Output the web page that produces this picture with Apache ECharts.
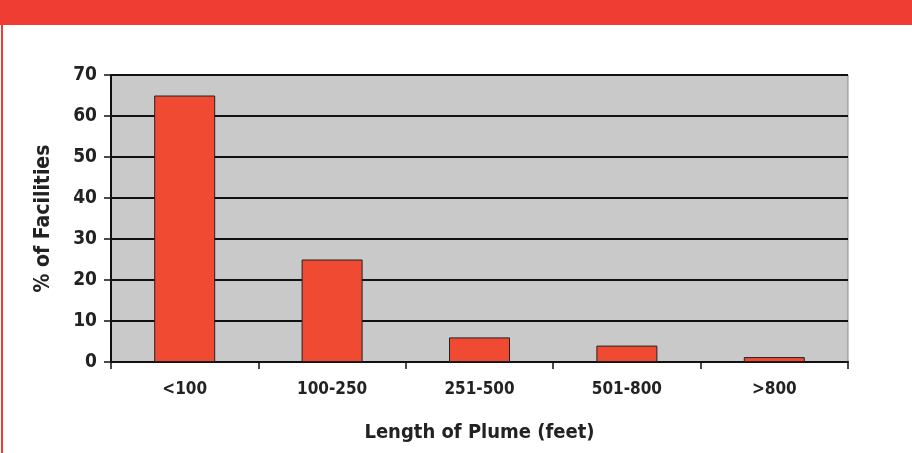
<!DOCTYPE html>
<html>
<head>
<meta charset="utf-8">
<script src="https://cdn.jsdelivr.net/npm/echarts@6/dist/echarts.min.js"></script>
<style>
  html, body { margin: 0; padding: 0; background: #fff; }
  #chart { width: 912px; height: 453px; }
</style>
</head>
<body>
<div id="chart"></div>
<script>
// 数据
const categories = ['<100', '100-250', '251-500', '501-800', '>800'];
const percentFacilities = [65, 25, 6, 4, 1.2];
const yTicks = [0, 10, 20, 30, 40, 50, 60, 70];

const font = '"Liberation Sans Narrow", "DejaVu Sans Condensed", "Liberation Sans", sans-serif';

const chart = echarts.init(document.getElementById('chart'));

chart.setOption({
  backgroundColor: '#fff',
  graphic: [
    // top red banner
    { type: 'rect', left: 0, top: 0, shape: { width: 912, height: 25 }, style: { fill: '#ef3d33' }, silent: true },
    // left red rule
    { type: 'rect', left: 1, top: 25, shape: { width: 2, height: 428 }, style: { fill: '#ef3d33' }, silent: true }
  ],
  grid: {
    left: 111, right: 64, top: 75, bottom: 91,
    outerBoundsMode: 'none',
    containLabel: false,
    show: true,
    backgroundColor: '#c9c9c9',
    borderColor: '#8a8a8a',
    borderWidth: 1
  },
  xAxis: {
    type: 'category',
    data: categories,
    name: 'Length of Plume (feet)',
    nameLocation: 'middle',
    nameGap: 61,
    nameTextStyle: { fontFamily: font, fontWeight: 'bold', fontSize: 20, color: '#222' },
    axisLine: { lineStyle: { color: '#111', width: 2 } },
    axisTick: { show: true, alignWithLabel: false, length: 7, lineStyle: { color: '#111', width: 1.5 } },
    axisLabel: { fontFamily: font, fontWeight: 'bold', fontSize: 17, color: '#222', margin: 19 }
  },
  yAxis: {
    type: 'value',
    min: 0,
    max: 70,
    interval: 10,
    name: '% of Facilities',
    nameLocation: 'middle',
    nameGap: 57,
    nameTextStyle: { fontFamily: font, fontWeight: 'bold', fontSize: 21, color: '#222' },
    axisLine: { show: true, lineStyle: { color: '#111', width: 2 } },
    axisTick: { show: true, length: 7, lineStyle: { color: '#111', width: 1.5 } },
    axisLabel: {
      fontFamily: font, fontWeight: 'bold', fontSize: 19, color: '#222', margin: 14,
      formatter: v => yTicks.includes(v) ? String(v) : ''
    },
    splitLine: { show: true, lineStyle: { color: '#111', width: 2 } }
  },
  series: [{
    type: 'bar',
    data: percentFacilities,
    barWidth: 61,
    itemStyle: { color: '#f04a33', borderColor: '#222', borderWidth: 1 },
    z: 3
  }]
});
</script>
</body>
</html>
